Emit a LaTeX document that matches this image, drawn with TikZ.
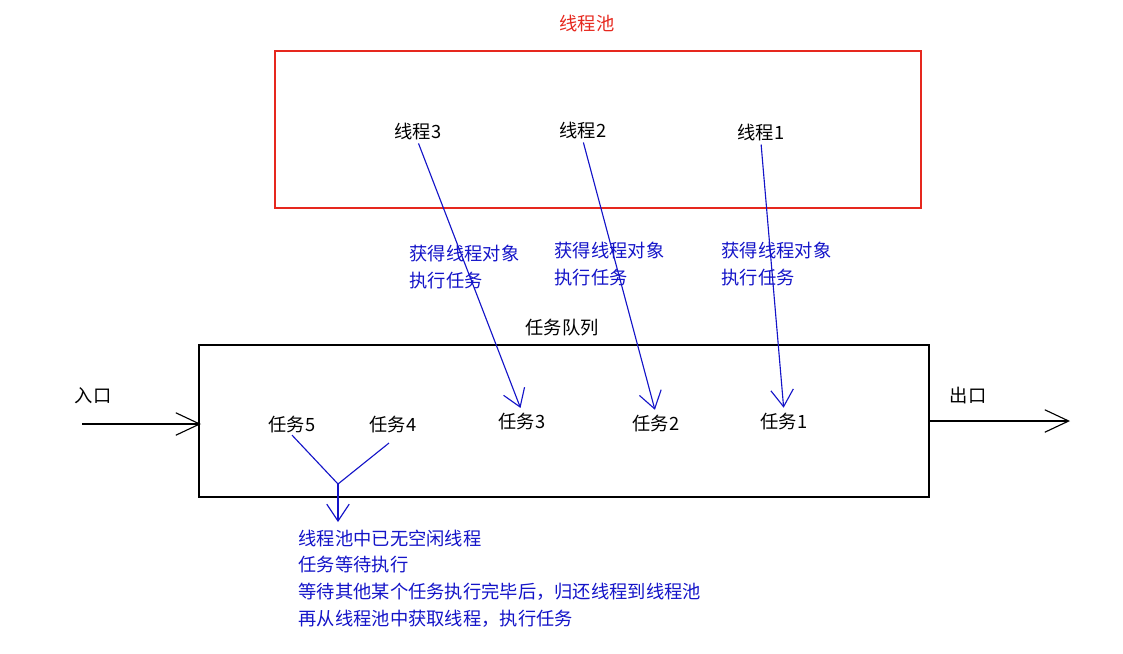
\documentclass[tikz,border=0pt]{standalone}
\usepackage{fontspec}
\setmainfont{Noto Sans CJK SC}
\usepackage{xcolor}
\usetikzlibrary{arrows.meta, positioning}
\definecolor{poolred}{RGB}{230,40,30}
\definecolor{flowblue}{RGB}{20,20,200}

\begin{document}
\begin{tikzpicture}[x=0.025cm, y=-0.025cm,
    label/.style={inner sep=1pt, font=\fontsize{13}{19}\selectfont},
    note/.style={label, text=flowblue, align=left},
    flow/.style={flowblue, line width=0.8pt, -{Straight Barb[length=12pt, width=16pt]}},
    io/.style={black, line width=0.8pt, -{Straight Barb[length=17pt, width=16pt]}}]
  \useasboundingbox (0,0) rectangle (1123,653);
  \node[label, text=poolred] (pooltitle) at (587,24) {线程池};
  \draw[poolred, line width=0.8pt] (275,51) rectangle (921,208);
  \node[label] (th3) at (418,132) {线程3};
  \node[label] (th2) at (583,131) {线程2};
  \node[label] (th1) at (761,133) {线程1};
  \node[note, anchor=west] (get3) at (408,267) {获得线程对象\\执行任务};
  \node[note, anchor=west] (get2) at (553,264) {获得线程对象\\执行任务};
  \node[note, anchor=west] (get1) at (720,264) {获得线程对象\\执行任务};
  \node[label] (queuetitle) at (562,328) {任务队列};
  \draw[black, line width=0.8pt] (199,345) rectangle (929,497);
  \node[label] (tk5) at (292,425) {任务5};
  \node[label] (tk4) at (393,425) {任务4};
  \node[label] (tk3) at (522,422) {任务3};
  \node[label] (tk2) at (656,424) {任务2};
  \node[label] (tk1) at (784,422) {任务1};
  \node[label] (entry) at (93,396) {入口};
  \node[label] (exit) at (968,396) {出口};
  \coordinate (inL) at (82,424);
  \coordinate (inR) at (201,424);
  \coordinate (outL) at (929,421);
  \coordinate (outR) at (1070,421);
  \draw[io] (inL) -- (inR);
  \draw[io] (outL) -- (outR);
  \draw[flow, shorten <=1pt, shorten >=3pt] (th3.south) -- (tk3.north);
  \draw[flow, shorten <=1pt, shorten >=3pt] (th2.south) -- (tk2.north);
  \draw[flow, shorten <=1pt, shorten >=3pt] (th1.south) -- (tk1.north);
  \coordinate (join) at (338,484);
  \coordinate (waitend) at (338,522);
  \draw[flowblue, line width=0.8pt] (tk5.south) -- (join) -- (389,443);
  \draw[flow] (join) -- (waitend);
  \node[note, anchor=north west] (wait) at (297,528) {线程池中已无空闲线程\\任务等待执行\\等待其他某个任务执行完毕后，归还线程到线程池\\再从线程池中获取线程，执行任务};
\end{tikzpicture}
\end{document}
